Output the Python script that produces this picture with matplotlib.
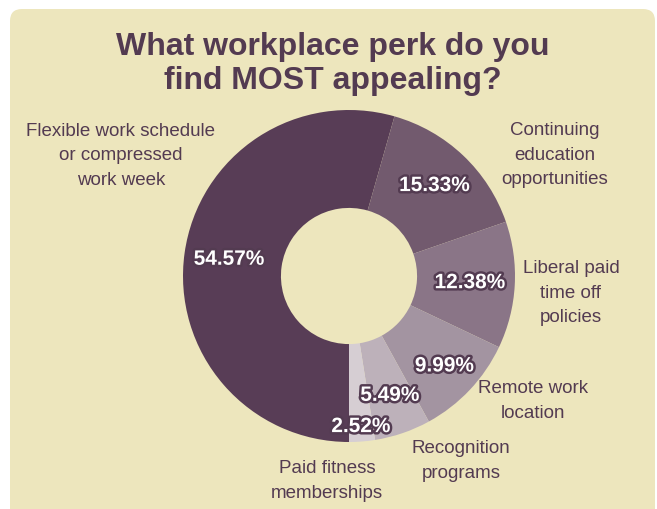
import numpy as np
import matplotlib
matplotlib.use("Agg")
import matplotlib.pyplot as plt
import matplotlib.patheffects as pe
from matplotlib.patches import FancyBboxPatch

# data
categories = [
    "Flexible work schedule\nor compressed\nwork week",
    "Continuing\neducation\nopportunities",
    "Liberal paid\ntime off\npolicies",
    "Remote work\nlocation",
    "Recognition\nprograms",
    "Paid fitness\nmemberships",
]
shares = [54.57, 15.33, 12.38, 9.99, 5.49, 2.52]

colors = ["#583D56", "#725A6E", "#8A7587", "#A394A1", "#BDB1BA", "#D6CED3"]
BG = "#EDE6BD"
INK = "#533B51"

# layout (pixels, figure is 657 x 510)
W, H = 657, 510
cx, cy, R = 349, 277, 166
hole = 0.41
pct_dist = [0.73, 0.75, 0.73, 0.79, 0.76, 0.91]
label_xy = [(121, 156), (555, 155), (571, 293), (533, 401), (461, 461), (327, 481)]

plt.rcParams["font.family"] = ["Liberation Sans", "DejaVu Sans"]

fig = plt.figure(figsize=(W / 100, H / 100), dpi=100)
fig.patch.set_facecolor("white")
ax = fig.add_axes([0, 0, 1, 1])
ax.set_xlim(0, W)
ax.set_ylim(0, H)
ax.set_aspect("equal")
ax.axis("off")

# rounded panel
panel = FancyBboxPatch((10, -20), 645, H - 10 + 20, boxstyle="round,pad=0,rounding_size=12",
                       facecolor=BG, edgecolor="none", zorder=0)
ax.add_patch(panel)

wedges, _ = ax.pie(shares, colors=colors, startangle=270, counterclock=False,
                   center=(cx, H - cy), radius=R,
                   wedgeprops=dict(width=R * (1 - hole), edgecolor="none"))
ax.set_xlim(0, W)
ax.set_ylim(0, H)

stroke = [pe.withStroke(linewidth=3.5, foreground="#533B51")]
for w, v, d in zip(wedges, shares, pct_dist):
    ang = np.deg2rad((w.theta1 + w.theta2) / 2)
    x = cx + R * d * np.cos(ang)
    y = (H - cy) + R * d * np.sin(ang)
    ax.text(x, y, f"{v:.2f}%", ha="center", va="center", color="white",
            fontsize=15, fontweight="bold", path_effects=stroke, zorder=5)

for lab, (px, py) in zip(categories, label_xy):
    ax.text(px, H - py, lab, ha="center", va="center", color=INK,
            fontsize=13.5, linespacing=1.6, zorder=5)

ax.text(333, H - 64, "What workplace perk do you\nfind MOST appealing?", ha="center",
        va="center", color=INK, fontsize=23, fontweight="bold", linespacing=1.18)

fig.savefig("out.png", dpi=100, facecolor="white")
